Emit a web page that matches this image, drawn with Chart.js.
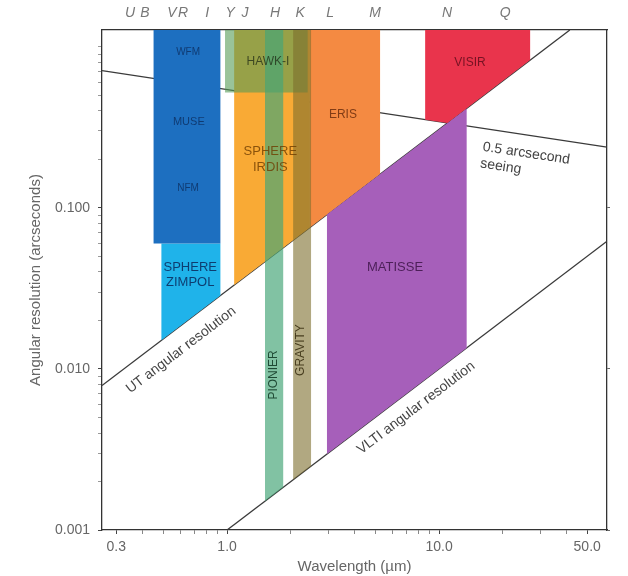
<!DOCTYPE html>
<html><head><meta charset="utf-8">
<script src="https://cdn.jsdelivr.net/npm/chart.js@4.4.1/dist/chart.umd.min.js"></script>
<style>html,body{margin:0;padding:0;background:#fff}#wrap{width:628px;height:576px}</style>
</head><body><div id="wrap"><canvas id="c" width="628" height="576"></canvas></div>
<script>
// ---------- axes ----------
const xMin = 0.257, xMax = 62;
const yMin = 0.001, yMax = 1.27;
const xMajorTicks = [0.3, 1, 10, 50];
const xTickLabels = ['0.3', '1.0', '10.0', '50.0'];
const xMinorTicks = [0.4, 0.5, 0.6, 0.7, 0.8, 0.9, 2, 3, 4, 5, 6, 7, 8, 9, 20, 30, 40];
const yMajorTicks = [0.001, 0.01, 0.1];
const yTickLabels = ['0.001', '0.010', '0.100'];
const yMinorTicks = [0.002, 0.003, 0.004, 0.005, 0.006, 0.007, 0.008, 0.009,
                     0.02, 0.03, 0.04, 0.05, 0.06, 0.07, 0.08, 0.09,
                     0.2, 0.3, 0.4, 0.5, 0.6, 0.7, 0.8, 0.9, 1];
const bandLetters = ['U', 'B', 'V', 'R', 'I', 'Y', 'J', 'H', 'K', 'L', 'M', 'N', 'Q'];
const bandWavelengths = [0.349, 0.41, 0.55, 0.62, 0.805, 1.033, 1.216, 1.684, 2.21, 3.06, 4.99, 10.9, 20.5];

// ---------- reference lines (wavelength um, resolution arcsec) ----------
const utLambda = [0.257, 41.4];
const utTheta = [0.00789, 1.27];
const vltiLambda = [1.0, 62];
const vltiTheta = [0.001, 0.062];
const seeingLambda = [0.257, 62];
const seeingTheta = [0.71, 0.238];

// ---------- instrument regions (polygon corners) ----------
const zimpolLambda = [0.49, 0.93, 0.93, 0.49];
const zimpolTheta = [0.01504, 0.02855, 0.06, 0.06];
const museLambda = [0.45, 0.93, 0.93, 0.45];
const museTheta = [0.06, 0.06, 1.27, 1.27];
const irdisLambda = [1.08, 2.46, 2.46, 1.08];
const irdisTheta = [0.0332, 0.0755, 1.27, 1.27];
const erisLambda = [2.46, 5.27, 5.27, 2.46];
const erisTheta = [0.0755, 0.162, 1.27, 1.27];
const matisseLambda = [2.96, 13.5, 13.5, 2.96];
const matisseTheta = [0.00296, 0.0135, 0.414, 0.0909];
const visirLambda = [8.6, 10.95, 26.9, 26.9, 8.6];
const visirTheta = [0.352, 0.336, 0.826, 1.27, 1.27];
const hawkiLambda = [0.978, 2.4, 2.4, 0.978];
const hawkiTheta = [0.52, 0.52, 1.27, 1.27];
const pionierLambda = [1.51, 1.84, 1.84, 1.51];
const pionierTheta = [0.00151, 0.00184, 1.27, 1.27];
const gravityLambda = [2.05, 2.49, 2.49, 2.05];
const gravityTheta = [0.00205, 0.00249, 1.27, 1.27];

const FONT = '"Liberation Sans", Arial, Helvetica, sans-serif';

function pts(lx, ly, close) {
  const d = lx.map((v, i) => ({x: v, y: ly[i]}));
  if (close) d.push({x: lx[0], y: ly[0]});
  return d;
}
function region(label, lx, ly, color, order) {
  return {label, data: pts(lx, ly, true), xAxisID: 'x', yAxisID: 'y',
    backgroundColor: color, borderWidth: 0, borderColor: 'rgba(0,0,0,0)',
    fill: 'shape', pointRadius: 0, order};
}
function refLine(label, lx, ly) {
  return {label, data: pts(lx, ly, false), xAxisID: 'x', yAxisID: 'y',
    borderColor: '#3a3a3a', borderWidth: 1.3, fill: false, pointRadius: 0, order: 100};
}

const lineDefs = {ut: [utLambda, utTheta], vlti: [vltiLambda, vltiTheta], seeing: [seeingLambda, seeingTheta]};

const regionLabels = [
  {text: ['WFM'], lam: 0.655, th: 0.93, color: 'rgba(10,35,80,0.7)', size: 10},
  {text: ['MUSE'], lam: 0.66, th: 0.342, color: 'rgba(10,35,80,0.7)', size: 11},
  {text: ['NFM'], lam: 0.655, th: 0.133, color: 'rgba(10,35,80,0.7)', size: 10},
  {text: ['SPHERE', 'ZIMPOL'], lam: 0.67, th: 0.0384, color: 'rgba(10,40,90,0.85)', size: 13},
  {text: ['HAWK-I'], lam: 1.56, th: 0.807, color: 'rgba(30,40,20,0.75)', size: 12},
  {text: ['SPHERE', 'IRDIS'], lam: 1.6, th: 0.199, color: 'rgba(110,60,0,0.8)', size: 13},
  {text: ['ERIS'], lam: 3.52, th: 0.378, color: 'rgba(100,40,10,0.8)', size: 12},
  {text: ['VISIR'], lam: 14.0, th: 0.795, color: 'rgba(90,10,25,0.8)', size: 12},
  {text: ['MATISSE'], lam: 6.2, th: 0.0424, color: 'rgba(60,20,70,0.85)', size: 13},
  {text: ['PIONIER'], lam: 1.666, th: 0.00918, color: 'rgba(20,60,40,0.9)', size: 12, rot: -90},
  {text: ['GRAVITY'], lam: 2.234, th: 0.0131, color: 'rgba(60,50,20,0.9)', size: 12, rot: -90},
  {text: ['UT angular resolution'], lam: 0.607, th: 0.0131, color: '#444', size: 14, along: 'ut'},
  {text: ['VLTI angular resolution'], lam: 7.79, th: 0.00573, color: '#444', size: 14, along: 'vlti'},
  {text: ['0.5 arcsecond', 'seeing'], lam: 16.1, th: 0.239, color: '#444', size: 14, along: 'seeing', align: 'left'}
];

const labelPlugin = {
  id: 'regionLabels',
  afterDatasetsDraw(chart) {
    const {ctx} = chart;
    const x = chart.scales.x, y = chart.scales.y;
    ctx.save();
    ctx.beginPath();
    ctx.rect(chart.chartArea.left, chart.chartArea.top, chart.chartArea.width, chart.chartArea.height);
    ctx.clip();
    for (const L of regionLabels) {
      const px = x.getPixelForValue(L.lam), py = y.getPixelForValue(L.th);
      let ang = 0;
      if (L.along) {
        const [lx, ly] = lineDefs[L.along];
        const x1 = x.getPixelForValue(lx[0]), y1 = y.getPixelForValue(ly[0]);
        const x2 = x.getPixelForValue(lx[1]), y2 = y.getPixelForValue(ly[1]);
        ang = Math.atan2(y2 - y1, x2 - x1);
      }
      if (L.rot) ang = L.rot * Math.PI / 180;
      ctx.save();
      ctx.translate(px, py);
      ctx.rotate(ang);
      ctx.font = L.size + 'px ' + FONT;
      ctx.fillStyle = L.color;
      ctx.textAlign = L.align || 'center';
      ctx.textBaseline = 'middle';
      const lh = L.size * 1.2;
      L.text.forEach((t, i) => {
        const off = L.align === 'left' ? i * lh : (i - (L.text.length - 1) / 2) * lh;
        ctx.fillText(t, 0, off);
      });
      ctx.restore();
    }
    ctx.restore();
  }
};

const tickColor = '#666';
const axisBorder = {color: '#333', width: 1.3};

new Chart(document.getElementById('c'), {
  type: 'line',
  data: {
    datasets: [
      refLine('UT angular resolution', utLambda, utTheta),
      refLine('VLTI angular resolution', vltiLambda, vltiTheta),
      refLine('0.5 arcsecond seeing', seeingLambda, seeingTheta),
      region('SPHERE ZIMPOL', zimpolLambda, zimpolTheta, '#1fb3ea', 50),
      region('MUSE', museLambda, museTheta, '#1d6fc0', 49),
      region('SPHERE IRDIS', irdisLambda, irdisTheta, '#f9aa35', 48),
      region('ERIS', erisLambda, erisTheta, '#f48a42', 47),
      region('MATISSE', matisseLambda, matisseTheta, '#a65fba', 46),
      region('VISIR', visirLambda, visirTheta, '#e9344c', 45),
      region('HAWK-I', hawkiLambda, hawkiTheta, 'rgba(85,155,85,0.6)', 40),
      region('PIONIER', pionierLambda, pionierTheta, 'rgba(70,165,120,0.68)', 39),
      region('GRAVITY', gravityLambda, gravityTheta, 'rgba(125,110,45,0.6)', 38)
    ]
  },
  options: {
    responsive: false, animation: false, devicePixelRatio: 1,
    layout: {padding: {left: 0, right: 0, top: 0, bottom: 0}},
    plugins: {legend: {display: false}, tooltip: {enabled: false}},
    elements: {line: {tension: 0}, point: {radius: 0}},
    scales: {
      x: {
        type: 'logarithmic', position: 'bottom', min: xMin, max: xMax,
        afterBuildTicks: s => { s.ticks = [...xMajorTicks, ...xMinorTicks].sort((a, b) => a - b).map(v => ({value: v})); },
        afterFit: s => { s.height = 46; },
        ticks: {autoSkip: false, maxRotation: 0, minRotation: 0, padding: 5, color: tickColor,
          font: {size: 14, family: FONT},
          callback: v => { const i = xMajorTicks.indexOf(v); return i >= 0 ? xTickLabels[i] : ''; }},
        grid: {drawOnChartArea: false, tickLength: 4,
          tickColor: c => xMajorTicks.includes(c.tick && c.tick.value) ? '#444' : '#888'},
        border: axisBorder,
        title: {display: true, text: 'Wavelength (µm)', color: tickColor, font: {size: 15, family: FONT}, padding: {top: 0, bottom: 0}}
      },
      xTop: {
        type: 'logarithmic', position: 'top', min: xMin, max: xMax,
        afterBuildTicks: s => { s.ticks = bandWavelengths.map(v => ({value: v})); },
        afterFit: s => { s.height = 30; },
        ticks: {autoSkip: false, maxRotation: 0, minRotation: 0, padding: 8, color: '#777',
          font: {size: 14, family: FONT, style: 'italic'},
          callback: (v, i) => bandLetters[i]},
        grid: {drawOnChartArea: false, drawTicks: false},
        border: axisBorder
      },
      y: {
        type: 'logarithmic', position: 'left', min: yMin, max: yMax,
        afterBuildTicks: s => { s.ticks = [...yMajorTicks, ...yMinorTicks].sort((a, b) => a - b).map(v => ({value: v})); },
        afterFit: s => { s.width = 102; },
        ticks: {autoSkip: false, padding: 8, color: tickColor, font: {size: 14, family: FONT},
          callback: v => { const i = yMajorTicks.indexOf(v); return i >= 0 ? yTickLabels[i] : ''; }},
        grid: {drawOnChartArea: false, tickLength: 4,
          tickColor: c => yMajorTicks.includes(c.tick && c.tick.value) ? '#444' : '#999'},
        border: axisBorder,
        title: {display: true, text: 'Angular resolution (arcseconds)', color: tickColor, font: {size: 15, family: FONT}, padding: {top: 27, bottom: 0}}
      },
      yRight: {
        type: 'logarithmic', position: 'right', min: yMin, max: yMax,
        afterBuildTicks: s => { s.ticks = [...yMajorTicks].map(v => ({value: v})); },
        afterFit: s => { s.width = 21; },
        ticks: {callback: () => ''},
        grid: {drawOnChartArea: false, tickLength: 3, tickColor: '#666'},
        border: axisBorder
      }
    }
  },
  plugins: [labelPlugin]
});
</script>
</body></html>
